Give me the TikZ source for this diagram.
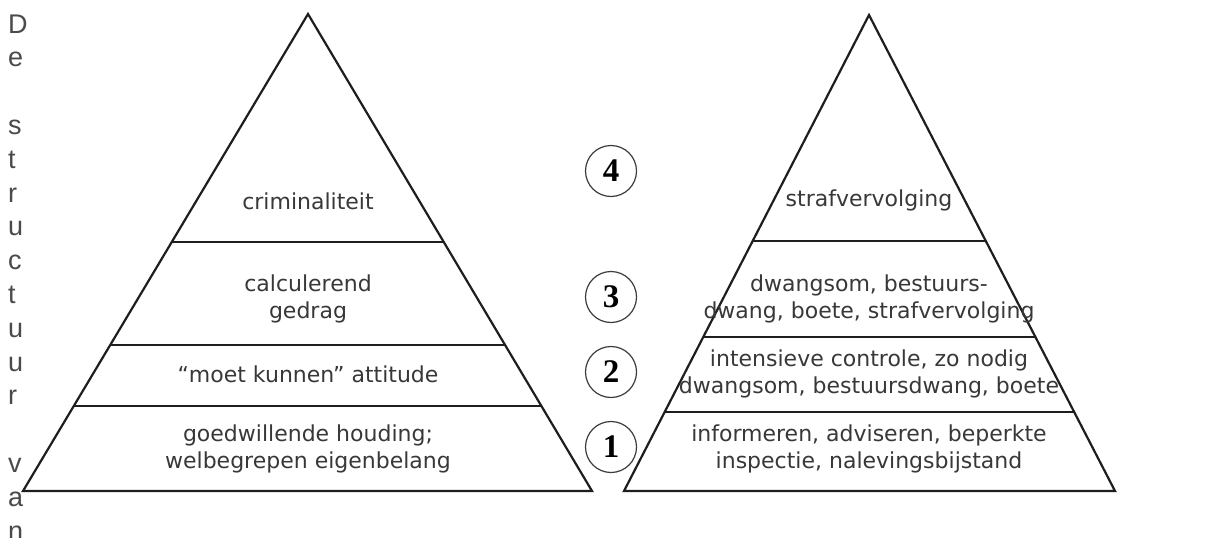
\documentclass[tikz,border=0pt]{standalone}
\usepackage{fontspec}
\setmainfont{DejaVu Sans}
\newfontfamily\sidefont{Liberation Sans}
\newfontfamily\numfont{Liberation Serif}
\usetikzlibrary{calc}

\definecolor{ink}{HTML}{1E1E1E}
\definecolor{txt}{HTML}{383838}
\definecolor{side}{HTML}{4A4A4A}
\definecolor{ring}{HTML}{3C3C3C}

\tikzset{
  tri/.style={draw=ink, line width=2.2pt, line join=miter},
  lbl/.style={text=txt, align=center, inner sep=0pt,
              font=\fontsize{22}{27}\selectfont},
  num/.style={circle, draw=ring, line width=1.2pt, minimum size=51pt,
              inner sep=0pt, text=black,
              font=\numfont\bfseries\fontsize{33}{33}\selectfont},
  sidech/.style={anchor=base west, inner sep=0pt, text=side,
                 font=\sidefont\fontsize{27}{27}\selectfont}
}

\begin{document}
\begin{tikzpicture}[x=1pt,y=-1pt]
\clip (0,0) rectangle (1205,538);
\fill[white] (0,0) rectangle (1205,538);

% vertical caption, one letter per line
\foreach \i/\ch in {1/D,2/e,4/s,5/t,6/r,7/u,8/c,9/t,10/u,11/u,12/r,14/v,15/a,16/n}
  \node[sidech] (ch\i) at (8,{33+(\i-1)*33.8}) {\ch};

% left pyramid: behaviour of the target group
\coordinate (LT) at (308,14);
\coordinate (LL) at (23,491);
\coordinate (LR) at (592,491);
\draw[tri] (LL) -- (LT) -- (LR) -- cycle;
\foreach \yy in {242,345,406}
  \draw[tri] ($(LT)!{(\yy-14)/477}!(LL)$) -- ($(LT)!{(\yy-14)/477}!(LR)$);

\node[lbl] (crim) at (308,201) {criminaliteit};
\node[lbl] (calc) at (308,299) {calculerend\\gedrag};
\node[lbl] (moet) at (308,374) {“moet kunnen” attitude};
\node[lbl] (goed) at (308,449) {goedwillende houding;\\welbegrepen eigenbelang};

% right pyramid: matching enforcement instruments
\coordinate (RT) at (869,15);
\coordinate (RL) at (624,491);
\coordinate (RR) at (1115,491);
\draw[tri] (RL) -- (RT) -- (RR) -- cycle;
\foreach \yy in {241,337,412}
  \draw[tri] ($(RT)!{(\yy-15)/476}!(RL)$) -- ($(RT)!{(\yy-15)/476}!(RR)$);

\node[lbl] (straf) at (869,200) {strafvervolging};
\node[lbl] (dwang) at (869,299) {dwangsom, bestuurs-\\dwang, boete, strafvervolging};
\node[lbl] (intens) at (869,374) {intensieve controle, zo nodig\\dwangsom, bestuursdwang, boete};
\node[lbl] (inform) at (869,449) {informeren, adviseren, beperkte\\inspectie, nalevingsbijstand};

% level numbers between the pyramids
\node[num] (n4) at (611,171) {4};
\node[num] (n3) at (611,297) {3};
\node[num] (n2) at (611,372) {2};
\node[num] (n1) at (611,447) {1};
\end{tikzpicture}
\end{document}
